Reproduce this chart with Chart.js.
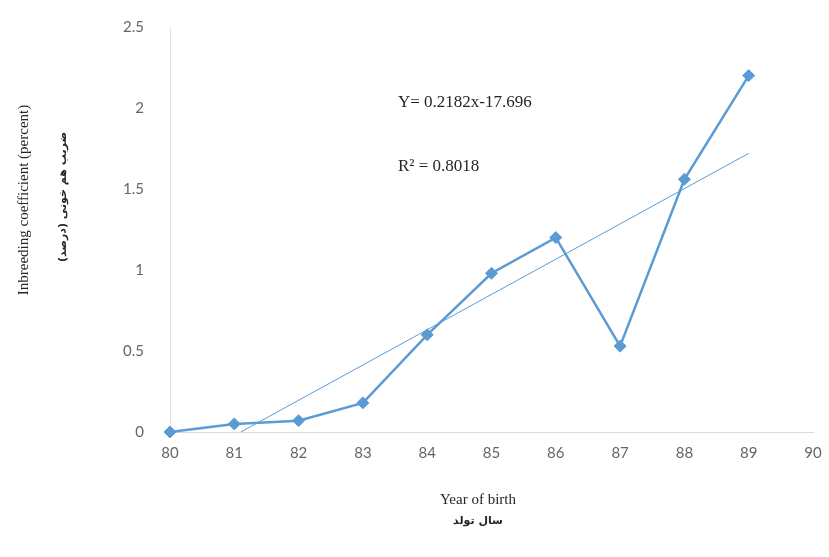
<!DOCTYPE html>
<html>
<head>
<meta charset="utf-8">
<script src="https://cdn.jsdelivr.net/npm/chart.js@4.4.0/dist/chart.umd.min.js"></script>
<style>
  html,body{margin:0;padding:0;background:#fff;}
  #wrap{width:829px;height:557px;}
</style>
</head>
<body>
<div id="wrap"><canvas id="inbreedChart" width="829" height="557"></canvas></div>
<script>
// data
const years = [80, 81, 82, 83, 84, 85, 86, 87, 88, 89]
const inbreeding = [0, 0.05, 0.07, 0.18, 0.6, 0.98, 1.2, 0.53, 1.56, 2.2]
// trend line ends (as drawn, clipped at 0)
const trendX = [81.1, 89]
const trendY = [0, 1.72]
const xTicks = [80, 81, 82, 83, 84, 85, 86, 87, 88, 89, 90]
const yTicks = [0, 0.5, 1, 1.5, 2, 2.5]

const equationText = 'Y= 0.2182x-17.696'
const rSquaredText = 'R\u00B2 = 0.8018'
const yTitle = 'Inbreeding coefficient (percent)'
const yTitleFa = 'ضریب هم خونی (درصد)'
const xTitle = 'Year of birth'
const xTitleFa = 'سال تولد'

const blue = '#5b9bd5'

const points = years.map((y, i) => ({x: y, y: inbreeding[i]}))
const trend = trendX.map((x, i) => ({x: x, y: trendY[i]}))

//------------------------------------------------------------
// draws the axis titles and the equation text
const textPlugin = {
    id: 'extraText',
    afterDraw(chart) {
        const ctx = chart.ctx
        ctx.save()
        ctx.fillStyle = '#262626'
        ctx.textBaseline = 'middle'

        // equation box
        ctx.textAlign = 'left'
        ctx.font = '17px "Liberation Serif"'
        ctx.fillText(equationText, 398, 103)
        ctx.fillText(rSquaredText, 398, 167)

        // x title
        ctx.textAlign = 'center'
        ctx.font = '15px "Liberation Serif"'
        ctx.fillText(xTitle, 478, 500)
        ctx.font = 'bold 11px "DejaVu Sans"'
        ctx.fillText(xTitleFa, 478, 521)

        // y title (rotated)
        ctx.translate(24, 200)
        ctx.rotate(-Math.PI / 2)
        ctx.font = '15px "Liberation Serif"'
        ctx.fillText(yTitle, 0, 0)
        ctx.restore()

        ctx.save()
        ctx.fillStyle = '#262626'
        ctx.textAlign = 'center'
        ctx.textBaseline = 'middle'
        ctx.translate(63, 197)
        ctx.rotate(-Math.PI / 2)
        ctx.font = 'bold 11px "DejaVu Sans"'
        ctx.fillText(yTitleFa, 0, 0)
        ctx.restore()
    }
}

new Chart('inbreedChart', {
    type: 'line',
    data: {
        datasets: [{
            data: points,
            borderColor: blue,
            backgroundColor: blue,
            borderWidth: 2.5,
            pointStyle: 'rectRot',
            pointRadius: 6,
            pointBorderWidth: 1,
            fill: false,
            clip: false,
            order: 1
        }, {
            data: trend,
            borderColor: blue,
            borderWidth: 1,
            pointRadius: 0,
            fill: false,
            order: 2
        }]
    },
    options: {
        responsive: false,
        animation: false,
        layout: {padding: {left: 90, right: 16, top: 22, bottom: 0}},
        plugins: {
            legend: {display: false},
            tooltip: {enabled: false}
        },
        scales: {
            x: {
                type: 'linear',
                min: 80,
                max: 90,
                afterBuildTicks: s => { s.ticks = xTicks.map(v => ({value: v})) },
                afterFit: s => { s.height = 125 },
                grid: {display: false},
                border: {display: true, color: '#d9d9d9', width: 1},
                ticks: {color: '#666666', font: {family: 'Lato', size: 15}, padding: 4,
                        callback: v => String(v)}
            },
            y: {
                min: 0,
                max: 2.5,
                afterBuildTicks: s => { s.ticks = yTicks.map(v => ({value: v})) },
                afterFit: s => { s.width = 80 },
                grid: {display: false},
                border: {display: true, color: '#e3e3e3', width: 1},
                ticks: {color: '#666666', font: {family: 'Lato', size: 15}, padding: 18,
                        callback: v => String(v)}
            }
        }
    },
    plugins: [textPlugin]
})
</script>
</body>
</html>
